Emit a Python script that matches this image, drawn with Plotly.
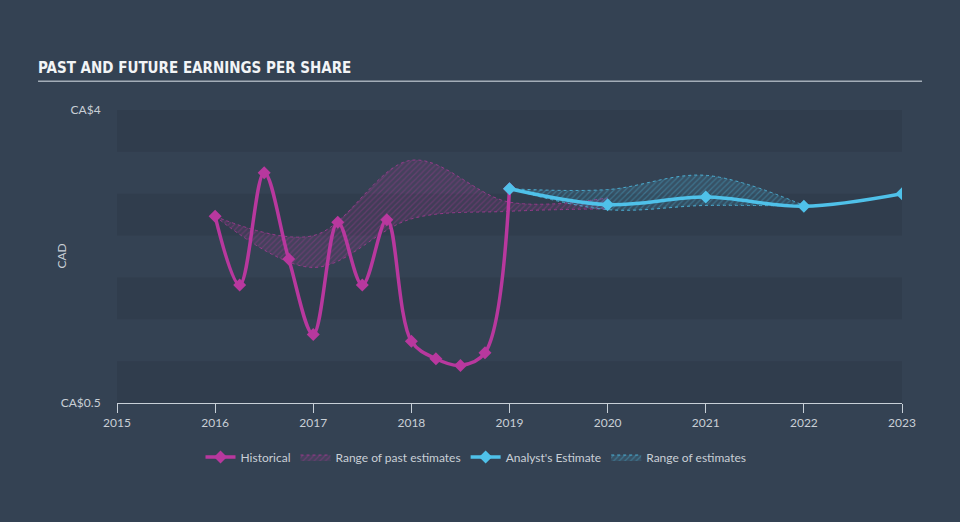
import plotly.graph_objects as go

# ---- data ----
hist_x = [2016.0, 2016.25, 2016.5, 2016.75, 2017.0, 2017.25, 2017.5, 2017.75,
          2018.0, 2018.25, 2018.5, 2018.75, 2019.0]
hist_y = [2.73, 1.91, 3.25, 2.22, 1.32, 2.66, 1.91, 2.69,
          1.24, 1.03, 0.95, 1.10, 3.06]

past_rng_x = [2016.0, 2017.0, 2018.0, 2019.0, 2020.0]
past_rng_low = [2.73, 2.12, 2.70, 2.79, 2.82]
past_rng_high = [2.73, 2.50, 3.40, 2.90, 2.95]

est_x = [2019.0, 2020.0, 2021.0, 2022.0, 2023.0]
est_y = [3.06, 2.87, 2.96, 2.85, 3.00]

est_rng_x = [2019.0, 2020.0, 2021.0, 2022.0]
est_rng_low = [3.06, 2.81, 2.86, 2.85]
est_rng_high = [3.06, 3.05, 3.22, 2.86]

year_ticks = [2015, 2016, 2017, 2018, 2019, 2020, 2021, 2022, 2023]
y_ticks = [0.5, 4]
y_tick_text = ["CA$0.5", "CA$4"]
band_edges = [0.5, 1.0, 1.5, 2.0, 2.5, 3.0, 3.5, 4.0]

MAG = "#b8389e"
CYAN = "#4fc1e9"
BG = "#344253"
BAND = "#303d4d"
TXT = "#c9cfd6"
FONT = "Lato, Open Sans, sans-serif"

fig = go.Figure()

# past range
fig.add_trace(go.Scatter(x=past_rng_x, y=past_rng_low, mode="lines",
                         line=dict(color="rgba(184,56,158,0.7)", width=1, dash="dot", shape="spline"),
                         showlegend=False, hoverinfo="skip"))
fig.add_trace(go.Scatter(x=past_rng_x, y=past_rng_high, mode="lines", name="Range of past estimates",
                         line=dict(color="rgba(184,56,158,0.7)", width=1, dash="dot", shape="spline"),
                         fill="tonexty", fillcolor="rgba(184,56,158,0.12)",
                         fillpattern=dict(shape="/", fgcolor="rgba(184,56,158,0.6)",
                                          bgcolor="rgba(184,56,158,0.12)", size=4, solidity=0.3),
                         legendrank=2, hoverinfo="skip"))
# estimate range
fig.add_trace(go.Scatter(x=est_rng_x, y=est_rng_low, mode="lines",
                         line=dict(color="rgba(79,193,233,0.8)", width=1, dash="dot", shape="spline"),
                         showlegend=False, hoverinfo="skip"))
fig.add_trace(go.Scatter(x=est_rng_x, y=est_rng_high, mode="lines", name="Range of estimates",
                         line=dict(color="rgba(79,193,233,0.8)", width=1, dash="dot", shape="spline"),
                         fill="tonexty", fillcolor="rgba(79,193,233,0.12)",
                         fillpattern=dict(shape="/", fgcolor="rgba(79,193,233,0.6)",
                                          bgcolor="rgba(79,193,233,0.12)", size=4, solidity=0.3),
                         legendrank=4, hoverinfo="skip"))
# historical
fig.add_trace(go.Scatter(x=hist_x, y=hist_y, mode="lines+markers", name="Historical",
                         line=dict(color=MAG, width=3.5, shape="spline", smoothing=1),
                         marker=dict(symbol="diamond", size=10, color=MAG),
                         legendrank=1))
# analyst estimate
fig.add_trace(go.Scatter(x=est_x, y=est_y, mode="lines+markers", name="Analyst's Estimate",
                         line=dict(color=CYAN, width=3.5, shape="spline", smoothing=1),
                         marker=dict(symbol="diamond", size=10, color=CYAN),
                         legendrank=3))

shapes = []
for i in range(0, len(band_edges) - 1, 2):
    shapes.append(dict(type="rect", xref="paper", x0=0, x1=1, yref="y",
                       y0=band_edges[i], y1=band_edges[i + 1],
                       fillcolor=BAND, line=dict(width=0), layer="below"))
# underline of title
shapes.append(dict(type="line", xref="paper", x0=-0.1006, x1=1.0255, yref="paper",
                   y0=1.0983, y1=1.0983, line=dict(color="#a3adb8", width=1.5)))

fig.update_layout(
    width=960, height=522,
    paper_bgcolor=BG, plot_bgcolor=BG,
    margin=dict(l=117, r=58, t=110, b=117),
    font=dict(family=FONT, color=TXT, size=12),
    title=dict(text="<b>PAST AND FUTURE EARNINGS PER SHARE</b>", xref="container", yref="container",
               x=0.0396, y=1 - 68 / 522, xanchor="left", yanchor="middle",
               font=dict(family="Liberation Sans Narrow, DejaVu Sans Condensed, sans-serif",
                         size=15, color="#f2f4f6")),
    xaxis=dict(range=[2015, 2023], tickvals=year_ticks, ticktext=[str(t) for t in year_ticks],
               showgrid=False, zeroline=False, showline=True, linecolor="#c8d0d8", linewidth=1,
               ticks="outside", ticklen=9, tickcolor="#c8d0d8", tickwidth=1,
               tickfont=dict(size=12, color=TXT)),
    yaxis=dict(range=[0.5, 4], tickvals=y_ticks, ticktext=y_tick_text,
               showgrid=False, zeroline=False, showline=False,
               ticks="outside", ticklen=13, tickcolor="rgba(0,0,0,0)",
               tickfont=dict(size=12, color=TXT)),
    shapes=shapes,
    annotations=[dict(text="CAD", xref="paper", yref="paper", x=(62 - 117) / 785, y=0.5,
                      textangle=-90, showarrow=False, font=dict(size=12, color=TXT),
                      xanchor="center", yanchor="middle")],
    legend=dict(orientation="h", xref="container", yref="container", x=476 / 960, y=1 - 457 / 522,
                xanchor="center", yanchor="middle", font=dict(size=12, color=TXT),
                itemwidth=30, bgcolor="rgba(0,0,0,0)", traceorder="normal"),
    showlegend=True,
)

fig.write_html("out.html")
